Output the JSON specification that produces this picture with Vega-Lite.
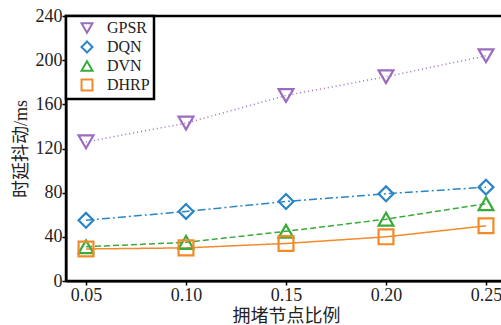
{
  "$schema": "https://vega.github.io/schema/vega-lite/v6.json",
  "width": 440,
  "height": 265,
  "autosize": "none",
  "padding": {"left": 66, "top": 16, "right": 0, "bottom": 44},
  "background": "white",
  "data": {"values": [
    {"r": 0.05, "s": "GPSR", "v": 126}, {"r": 0.10, "s": "GPSR", "v": 143}, {"r": 0.15, "s": "GPSR", "v": 168}, {"r": 0.20, "s": "GPSR", "v": 185}, {"r": 0.25, "s": "GPSR", "v": 204},
    {"r": 0.05, "s": "DQN", "v": 55}, {"r": 0.10, "s": "DQN", "v": 63}, {"r": 0.15, "s": "DQN", "v": 72}, {"r": 0.20, "s": "DQN", "v": 79}, {"r": 0.25, "s": "DQN", "v": 85},
    {"r": 0.05, "s": "DVN", "v": 31}, {"r": 0.10, "s": "DVN", "v": 35}, {"r": 0.15, "s": "DVN", "v": 45}, {"r": 0.20, "s": "DVN", "v": 56}, {"r": 0.25, "s": "DVN", "v": 70},
    {"r": 0.05, "s": "DHRP", "v": 29}, {"r": 0.10, "s": "DHRP", "v": 30}, {"r": 0.15, "s": "DHRP", "v": 34}, {"r": 0.20, "s": "DHRP", "v": 40}, {"r": 0.25, "s": "DHRP", "v": 50}
  ]},
  "encoding": {
    "x": {"field": "r", "type": "quantitative", "title": "拥堵节点比例",
      "scale": {"domain": [0.04, 0.26], "nice": false},
      "axis": {"values": [0.05, 0.10, 0.15, 0.20, 0.25], "format": ".2f", "grid": false}},
    "y": {"field": "v", "type": "quantitative", "title": "时延抖动/ms",
      "scale": {"domain": [0, 240], "nice": false},
      "axis": {"values": [0, 40, 80, 120, 160, 200, 240], "grid": false}},
    "color": {"field": "s", "type": "nominal", "title": null,
      "legend": {"orient": "top-left", "title": null},
      "scale": {"domain": ["GPSR", "DQN", "DVN", "DHRP"], "range": ["#9a6cc0", "#2a85c6", "#3aaa3a", "#f28a28"]}}
  },
  "resolve": {"legend": {"strokeDash": "independent"}},
  "layer": [
    {"mark": {"type": "line", "strokeWidth": 1.5},
     "encoding": {"strokeDash": {"field": "s", "type": "nominal", "legend": null,
       "scale": {"domain": ["GPSR", "DQN", "DVN", "DHRP"], "range": [[1, 3], [8, 3, 2, 3], [6, 3], [1, 0]]}}}},
    {"mark": {"type": "point", "filled": false, "size": 220, "strokeWidth": 2.2, "opacity": 1},
     "encoding": {"shape": {"field": "s", "type": "nominal", "title": null,
       "legend": {"orient": "top-left", "title": null},
       "scale": {"domain": ["GPSR", "DQN", "DVN", "DHRP"], "range": ["triangle-down", "diamond", "triangle-up", "square"]}}}}
  ],
  "config": {
    "view": {"stroke": "black", "strokeWidth": 2.5},
    "axis": {"domainColor": "black", "domainWidth": 2, "tickColor": "black", "tickWidth": 1.5, "tickSize": 4,
      "labelFont": "Liberation Serif", "labelFontSize": 18, "labelColor": "#222",
      "titleFont": "Liberation Serif, Noto Sans CJK SC", "titleFontSize": 18, "titleFontWeight": "normal", "titleColor": "#222"},
    "axisX": {"labelPadding": 1, "titlePadding": 3},
    "axisY": {"labelPadding": 0, "titlePadding": 5, "titleFontSize": 18},
    "legend": {"offset": 0, "padding": 4, "strokeColor": "black", "strokeWidth": 2.5, "fillColor": "white",
      "labelFont": "Liberation Serif", "labelFontSize": 16, "labelColor": "#222", "symbolSize": 120, "symbolStrokeWidth": 2,
      "rowPadding": 0, "labelOffset": 12, "symbolOffset": 9, "symbolDash": [1, 0]}
  }
}
